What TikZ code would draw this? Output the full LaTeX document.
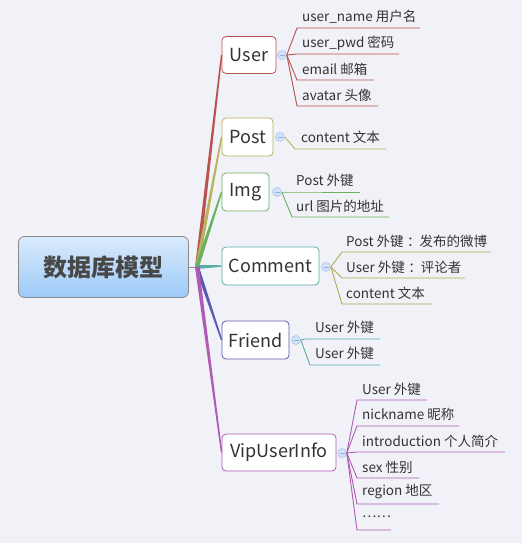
\documentclass[tikz,border=0pt]{standalone}
\usepackage{fontspec}
\setmainfont{Noto Sans CJK SC}
\usetikzlibrary{calc}
\definecolor{bgc}{HTML}{F1F2F8}
\definecolor{txt}{HTML}{333333}
\definecolor{rootb}{HTML}{8A8A8A}
\definecolor{roott}{HTML}{D9EBFC}
\definecolor{rootbot}{HTML}{9DCAF8}
\definecolor{userc}{HTML}{B85450}
\definecolor{postc}{HTML}{B8B25C}
\definecolor{imgc}{HTML}{6AB15E}
\definecolor{commc}{HTML}{5AABA3}
\definecolor{commk}{HTML}{B0A94E}
\definecolor{friendc}{HTML}{5A5AB2}
\definecolor{vipc}{HTML}{AF5BB5}
\definecolor{knobf}{HTML}{D4E3F8}
\definecolor{knobb}{HTML}{A9C6EE}
\definecolor{knobm}{HTML}{8FB0E0}
\tikzset{
  rootbox/.style={draw=rootb, line width=0.8pt, rounded corners=6pt, top color=roott, bottom color=rootbot,
    minimum width=170pt, minimum height=61pt, text=black!72, font=\fontsize{24}{28}\selectfont\bfseries},
  topic/.style={draw, fill=white, line width=0.8pt, rounded corners=4pt, text=txt,
    minimum height=38pt, inner sep=0pt, font=\fontsize{18}{22}\selectfont},
  leaf/.style={anchor=west, inner sep=0pt, text=txt, font=\fontsize{13.5}{15}\selectfont},
  knob/.style={circle, draw=knobb, fill=knobf, line width=0.6pt, minimum size=9pt, inner sep=0pt,
    path picture={\draw[knobm, line width=0.6pt] ($(path picture bounding box.west)+(2pt,0)$) -- ($(path picture bounding box.east)+(-2pt,0)$);}},
  twig/.style={line width=0.9pt},
}
\newcommand{\branchto}[3]{% color, from, to
  \fill[#1] ($(#2)!2pt!90:(#3)$) -- ($(#3)!0.7pt!-90:(#2)$) -- ($(#3)!0.7pt!90:(#2)$) -- ($(#2)!2pt!-90:(#3)$) -- cycle;}
\newcommand{\midcolon}{\kern3.5pt：\kern-1pt}
\begin{document}
\begin{tikzpicture}[x=1pt,y=-1pt]
\useasboundingbox (0,0) rectangle (522,543);
\fill[bgc] (0,0) rectangle (522,543);

% root
\node[rootbox] (root) at (103.5,267) {数据库模型};
\coordinate (j) at (197,267);
\draw[rootb, line width=0.8pt] (root.east) -- (j);

% topics
\node[topic, draw=userc, minimum width=54pt, minimum height=37pt] (user) at (249,55) {User};
\node[topic, draw=postc, minimum width=51pt] (post) at (247.5,137) {Post};
\node[topic, draw=imgc, minimum width=47pt] (img) at (245.5,192) {Img};
\node[topic, draw=commc, minimum width=97pt] (comm) at (270.5,266) {Comment};
\node[topic, draw=friendc, minimum width=67pt] (friend) at (255.5,340) {Friend};
\node[topic, draw=vipc, minimum width=114pt, minimum height=37pt] (vip) at (279,452.5) {VipUserInfo};

% branches
\branchto{userc}{j}{user.west}
\branchto{postc}{j}{post.west}
\branchto{imgc}{j}{img.west}
\branchto{commc}{j}{comm.west}
\branchto{friendc}{j}{friend.west}
\branchto{vipc}{j}{vip.west}

% ---------- User children
\node[knob] (ku) at (282,55) {};
\node[leaf] (u1) at (302,17) {user\_name 用户名};
\node[leaf] (u2) at (302,43) {user\_pwd 密码};
\node[leaf] (u3) at (302,69) {email 邮箱};
\node[leaf] (u4) at (302,95) {avatar 头像};
\coordinate (u1s) at (297,28); \coordinate (u1e) at (420,28);
\coordinate (u2s) at (297,54); \coordinate (u2e) at (399,54);
\coordinate (u3s) at (297,80); \coordinate (u3e) at (374,80);
\coordinate (u4s) at (297,106); \coordinate (u4e) at (378,106);
\foreach \i in {1,2,3,4} \draw[twig, userc] (ku.east) -- (u\i s) -- (u\i e);

% ---------- Post children
\node[knob] (kp) at (280,137) {};
\node[leaf] (p1) at (301,137) {content 文本};
\coordinate (p1s) at (295,149); \coordinate (p1e) at (386,149);
\draw[twig, postc] (kp.east) -- (p1s) -- (p1e);

% ---------- Img children
\node[knob] (ki) at (277,192) {};
\node[leaf] (i1) at (296,180) {Post 外键};
\node[leaf] (i2) at (296,206) {url 图片的地址};
\coordinate (i1s) at (286,192); \coordinate (i1e) at (360,192);
\coordinate (i2s) at (292,217); \coordinate (i2e) at (389,217);
\foreach \i in {1,2} \draw[twig, imgc] (ki.east) -- (i\i s) -- (i\i e);

% ---------- Comment children
\node[knob] (kc) at (326,267) {};
\node[leaf] (c1) at (346,241) {Post 外键\midcolon 发布的微博};
\node[leaf] (c2) at (346,267) {User 外键\midcolon 评论者};
\node[leaf] (c3) at (346,293) {content 文本};
\coordinate (c1s) at (342,252); \coordinate (c1e) at (491,252);
\coordinate (c2s) at (342,278); \coordinate (c2e) at (465,278);
\coordinate (c3s) at (342,304); \coordinate (c3e) at (432,304);
\foreach \i in {1,2,3} \draw[twig, commk] (kc.east) -- (c\i s) -- (c\i e);

% ---------- Friend children
\node[knob] (kf) at (296,340) {};
\node[leaf] (f1) at (315,327) {User 外键};
\node[leaf] (f2) at (315,353) {User 外键};
\coordinate (f1s) at (305,339); \coordinate (f1e) at (380,339);
\coordinate (f2s) at (310,365); \coordinate (f2e) at (380,365);
\foreach \i in {1,2} \draw[twig, commc] (kf.east) -- (f\i s) -- (f\i e);

% ---------- VipUserInfo children
\node[knob] (kv) at (342,453) {};
\node[leaf] (v1) at (362,389) {User 外键};
\node[leaf] (v2) at (362,414) {nickname 昵称};
\node[leaf] (v3) at (362,441) {introduction 个人简介};
\node[leaf] (v4) at (362,467) {sex 性别};
\node[leaf] (v5) at (362,492) {region 地区};
\node[leaf] (v6) at (362,517) {……};
\coordinate (v1s) at (357,400); \coordinate (v1e) at (427,400);
\coordinate (v2s) at (357,426); \coordinate (v2e) at (459,426);
\coordinate (v3s) at (357,452); \coordinate (v3e) at (505,452);
\coordinate (v4s) at (357,478); \coordinate (v4e) at (419,478);
\coordinate (v5s) at (357,504); \coordinate (v5e) at (439,504);
\coordinate (v6s) at (357,530); \coordinate (v6e) at (391,530);
\foreach \i in {1,...,6} \draw[twig, vipc] (kv.east) -- (v\i s) -- (v\i e);
\end{tikzpicture}
\end{document}
